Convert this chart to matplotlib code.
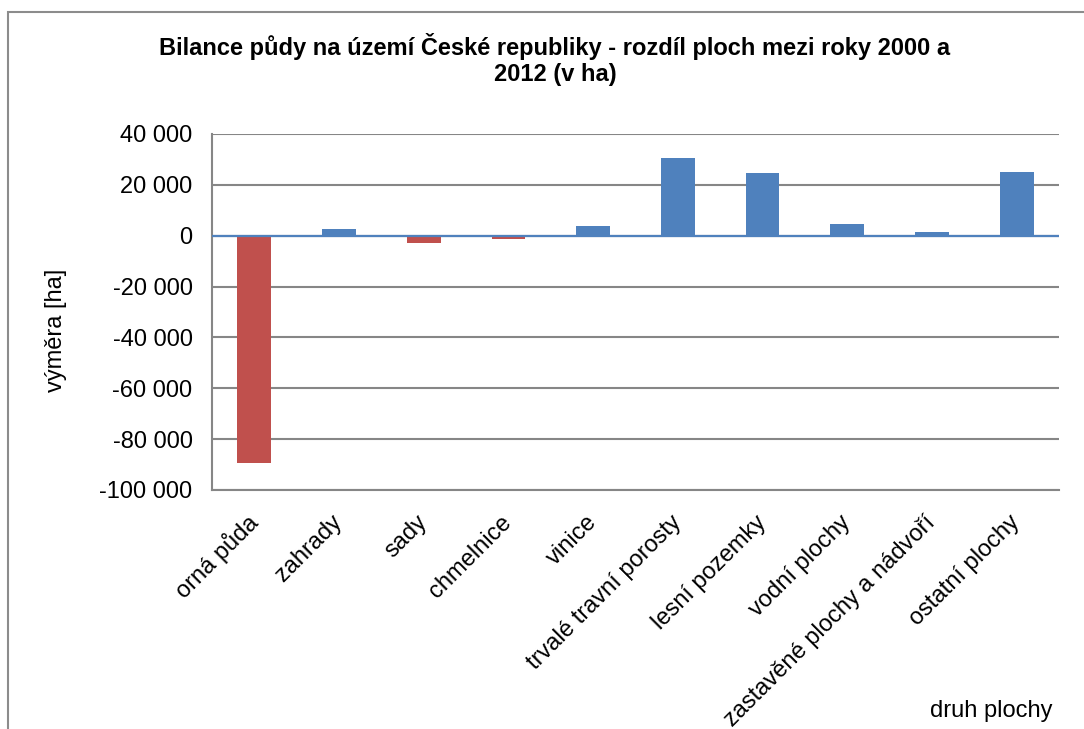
import matplotlib
matplotlib.use("Agg")
import matplotlib.pyplot as plt
from matplotlib.patches import Rectangle
from matplotlib.ticker import FuncFormatter

categories = ["orná půda", "zahrady", "sady", "chmelnice", "vinice",
              "trvalé travní porosty", "lesní pozemky", "vodní plochy",
              "zastavěné plochy a nádvoří", "ostatní plochy"]
values = [-89400, 2700, -3000, -1100, 3900, 30500, 24600, 4700, 1500, 25100]
yticks = [40000, 20000, 0, -20000, -40000, -60000, -80000, -100000]

BLUE = "#4F81BD"
RED = "#C0504D"
GRID = "#868686"

plt.rcParams['font.family'] = ['Liberation Sans', 'DejaVu Sans']

fig = plt.figure(figsize=(10.84, 7.29), dpi=100)
ax = fig.add_axes([212/1084, 1-490/729, (1059-212)/1084, (490-134)/729])

x = list(range(len(categories)))
colors = [RED if v < 0 else BLUE for v in values]
ax.bar(x, values, width=0.4, color=colors, zorder=3)

ax.set_xlim(-0.5, len(categories) - 0.5)
ax.set_ylim(-100000, 40000)
ax.set_yticks(yticks)
ax.yaxis.set_major_formatter(FuncFormatter(lambda v, p: f"{int(v):,}".replace(",", " ")))
ax.tick_params(axis='y', length=0, labelsize=17, pad=14)
ax.grid(axis='y', color=GRID, linewidth=1.5, zorder=0)
ax.axhline(0, color=BLUE, linewidth=1.6, zorder=4)

ax.set_xticks(x)
ax.set_xticklabels(categories, rotation=45, ha='right', va='center',
                   rotation_mode='anchor', fontsize=17)
ax.tick_params(axis='x', length=0, pad=21)

for s in ['top', 'right']:
    ax.spines[s].set_visible(False)
for s in ['left', 'bottom']:
    ax.spines[s].set_color(GRID)
    ax.spines[s].set_linewidth(1.5)

fig.text(555/1084, 1-47/729, "Bilance půdy na území České republiky - rozdíl ploch mezi roky 2000 a",
         ha='center', va='center', fontsize=17, fontweight='bold')
fig.text(555/1084, 1-74/729, "2012 (v ha)",
         ha='center', va='center', fontsize=17, fontweight='bold')
fig.text(56/1084, 1-330/729, "výměra [ha]", rotation=90, ha='center', va='center', fontsize=17)
fig.text(1052/1084, 1-711/729, "druh plochy", ha='right', va='center', fontsize=17)

fig.patches.append(Rectangle((8/1084, -0.1), 1.2, 1.1 - 12.5/729, transform=fig.transFigure,
                             fill=False, edgecolor="#8C8C8C", linewidth=1.5))

fig.savefig("out.png", dpi=100)
